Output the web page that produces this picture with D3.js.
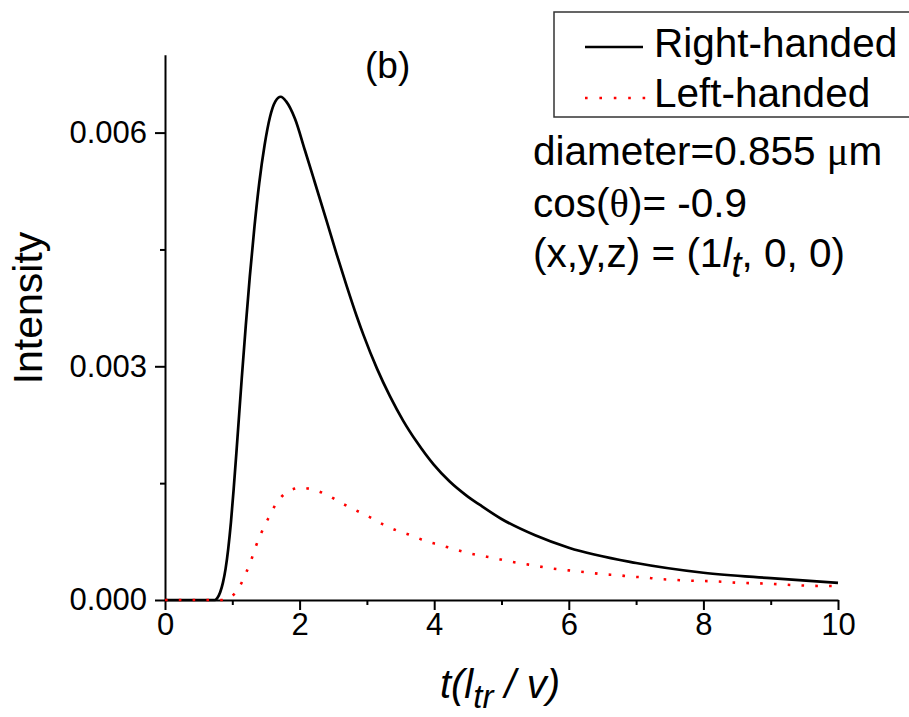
<!DOCTYPE html>
<html>
<head>
<meta charset="utf-8">
<script src="https://cdn.jsdelivr.net/npm/d3@7"></script>
<style>
  html, body { margin: 0; padding: 0; background: #fff; }
  svg { display: block; font-family: "Liberation Sans", Arial, sans-serif; }
</style>
</head>
<body>
<svg id="chart" width="909" height="717"></svg>
<script>
// Time axis (units of l_tr / v) and intensity for each handedness
const rightT = [0, 0.5, 0.74, 0.78, 0.82, 0.86, 0.90, 0.94, 0.98, 1.02, 1.07, 1.14, 1.20, 1.26, 1.33, 1.40, 1.48, 1.56, 1.64, 1.72, 1.80, 1.93, 2.08, 2.23, 2.40, 2.55, 2.70, 2.85, 2.95, 3.15, 3.34, 3.54, 3.74, 3.99, 4.23, 4.48, 4.68, 5.0, 5.5, 6.0, 7.0, 8.0, 9.0, 10.0];
const rightI = [0, 0, 0, 0.00003, 0.00010, 0.00022, 0.00040, 0.00066, 0.00100, 0.00142, 0.00200, 0.00284, 0.00352, 0.00415, 0.00480, 0.00535, 0.00584, 0.00620, 0.00640, 0.00646, 0.00640, 0.00618, 0.00577, 0.00535, 0.00487, 0.00444, 0.00403, 0.00364, 0.00340, 0.00297, 0.00262, 0.00230, 0.00203, 0.00174, 0.00152, 0.00134, 0.00122, 0.00104, 0.00083, 0.00067, 0.000475, 0.00035, 0.00028, 0.00022];

const leftT = [0, 0.5, 0.85, 0.94, 1.10, 1.20, 1.28, 1.35, 1.43, 1.53, 1.64, 1.82, 2.02, 2.23, 2.43, 2.63, 2.84, 3.05, 3.24, 3.45, 3.66, 3.86, 4.07, 4.27, 4.47, 4.68, 4.88, 5.09, 5.29, 5.50, 5.70, 5.90, 6.11, 6.32, 6.51, 6.72, 6.92, 7.13, 7.33, 7.54, 7.74, 8.15, 8.55, 8.96, 9.37, 9.78, 10.0];
const leftI = [0, 0, 0, 0.00002, 0.00016, 0.00034, 0.00051, 0.00069, 0.00086, 0.00104, 0.00122, 0.00139, 0.00144, 0.00141, 0.00134, 0.00124, 0.00115, 0.00106, 0.00097, 0.00089, 0.00083, 0.00076, 0.00071, 0.00066, 0.00061, 0.00057, 0.00054, 0.00050, 0.00047, 0.00044, 0.00041, 0.00039, 0.00037, 0.00035, 0.00033, 0.00032, 0.00030, 0.00029, 0.00027, 0.00026, 0.00025, 0.00024, 0.00022, 0.00021, 0.00019, 0.00018, 0.00018];

const xMajorTicks = [0, 2, 4, 6, 8, 10];
const xMinorTicks = [1, 3, 5, 7, 9];
const yMajorTicks = [0, 0.003, 0.006];
const yMinorTicks = [0.0015, 0.0045];
const seriesNames = ["Right-handed", "Left-handed"];

const svg = d3.select("#chart");
const x = d3.scaleLinear().domain([0, 10]).range([165, 838]);
const y = d3.scaleLinear().domain([0, 0.007]).range([600, 54.7]);

// Axes
const axisStyle = g => {
  g.select(".domain").attr("stroke", "#000").attr("stroke-width", 2);
  g.selectAll(".tick line").attr("stroke", "#000").attr("stroke-width", 2);
  g.selectAll(".tick text").attr("fill", "#000").attr("font-size", 31)
    .attr("font-family", "'Liberation Sans', Arial, sans-serif");
};

const gxMinor = svg.append("g").attr("transform", "translate(0,600)")
  .call(d3.axisBottom(x).tickValues(xMinorTicks).tickSize(5).tickFormat(""));
gxMinor.select(".domain").remove();
gxMinor.selectAll(".tick line").attr("stroke", "#000").attr("stroke-width", 2);

const gyMinor = svg.append("g").attr("transform", "translate(165,0)")
  .call(d3.axisLeft(y).tickValues(yMinorTicks).tickSize(5).tickFormat(""));
gyMinor.select(".domain").remove();
gyMinor.selectAll(".tick line").attr("stroke", "#000").attr("stroke-width", 2);

svg.append("g").attr("transform", "translate(0,600)")
  .call(d3.axisBottom(x).tickValues(xMajorTicks).tickSize(10).tickSizeOuter(0).tickPadding(3).tickFormat(d3.format("d")))
  .call(axisStyle);

svg.append("g").attr("transform", "translate(165,0)")
  .call(d3.axisLeft(y).tickValues(yMajorTicks).tickSize(10).tickSizeOuter(0).tickPadding(8).tickFormat(d3.format(".3f")))
  .call(axisStyle);

// Curves
const line = d3.line().x(d => x(d[0])).y(d => y(d[1])).curve(d3.curveMonotoneX);
const rightData = d3.zip(rightT, rightI);
const leftData = d3.zip(leftT, leftI);

svg.append("path").datum(rightData)
  .attr("d", line).attr("fill", "none").attr("stroke", "#000").attr("stroke-width", 2.7);

svg.append("path").datum(leftData)
  .attr("d", line).attr("fill", "none").attr("stroke", "#ff0000").attr("stroke-width", 2.6)
  .attr("stroke-dasharray", "2.6 11.2");

// Axis titles
svg.append("text").attr("transform", "translate(42,308) rotate(-90)")
  .attr("text-anchor", "middle").attr("font-size", 41).text("Intensity");

const xt = svg.append("text").attr("x", 500).attr("y", 698).attr("text-anchor", "middle")
  .attr("font-size", 40).attr("font-style", "italic");
xt.append("tspan").text("t(l");
xt.append("tspan").attr("dy", 10).attr("font-size", 33).text("tr");
xt.append("tspan").attr("dy", -10).text(" / v)");

// Panel tag
svg.append("text").attr("x", 365).attr("y", 78).attr("font-size", 37).text("(b)");

// Legend
const lg = svg.append("g");
lg.append("rect").attr("x", 554).attr("y", 12).attr("width", 380).attr("height", 105)
  .attr("fill", "#fff").attr("stroke", "#333").attr("stroke-width", 1.5);
lg.append("line").attr("x1", 585).attr("x2", 643).attr("y1", 47).attr("y2", 47)
  .attr("stroke", "#000").attr("stroke-width", 2.6);
lg.append("line").attr("x1", 585).attr("x2", 646).attr("y1", 98).attr("y2", 98)
  .attr("stroke", "#ff0000").attr("stroke-width", 2.6).attr("stroke-dasharray", "2.6 11.8");
lg.append("text").attr("x", 654).attr("y", 57).attr("font-size", 40.5).text(seriesNames[0]);
lg.append("text").attr("x", 654).attr("y", 107).attr("font-size", 40.5).text(seriesNames[1]);

// Simulation parameters
const ann = svg.append("g").attr("font-size", 40.5);
const a1 = ann.append("text").attr("x", 533).attr("y", 165);
a1.append("tspan").text("diameter=0.855 ");
a1.append("tspan").attr("font-family", "'Liberation Serif', 'Times New Roman', serif").text("\u03bc");
a1.append("tspan").text("m");
const a2 = ann.append("text").attr("x", 533).attr("y", 217);
a2.append("tspan").text("cos(");
a2.append("tspan").attr("font-family", "'Liberation Serif', 'Times New Roman', serif").text("\u03b8");
a2.append("tspan").text(")= -0.9");
const a3 = ann.append("text").attr("x", 533).attr("y", 267);
a3.append("tspan").text("(x,y,z) = (1");
a3.append("tspan").attr("font-style", "italic").text("l");
a3.append("tspan").attr("font-style", "italic").attr("dy", 10).attr("font-size", 36).text("t");
a3.append("tspan").attr("dy", -10).text(", 0, 0)");
</script>
</body>
</html>
